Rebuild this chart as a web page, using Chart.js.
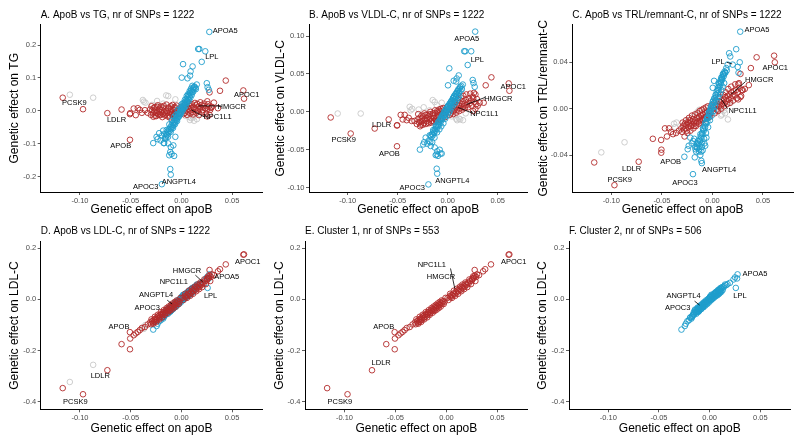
<!DOCTYPE html>
<html><head><meta charset="utf-8">
<script src="https://cdn.jsdelivr.net/npm/chart.js@4.4.1/dist/chart.umd.min.js"></script>
<style>
html,body{margin:0;padding:0;background:#fff;}
#wrap{position:relative;width:800px;height:443px;overflow:hidden;background:#fff}
canvas{position:absolute}
</style></head><body><div id="wrap"></div>
<script>
// ---------- tick values ----------
const xTickVals    = [-0.10, -0.05, 0.00, 0.05];
const tgTickVals   = [-0.2, -0.1, 0.0, 0.1, 0.2];
const vldlTickVals = [-0.10, -0.05, 0.00, 0.05, 0.10];
const trlTickVals  = [-0.04, 0.00, 0.04];
const ldlTickVals  = [-0.4, -0.2, 0.0, 0.2];

// ---------- cluster 1 (red) SNPs: effect on apoB, TG, VLDL-C, TRL-C, LDL-C ----------
const redApoB = [-0.0332,-0.0309,-0.0301,-0.0287,-0.0281,-0.0273,-0.0268,-0.0259,-0.0252,-0.0243,-0.0238,-0.0229,-0.0222,-0.0214,-0.0207,-0.0199,-0.0191,-0.0183,-0.0178,-0.0169,-0.0158,-0.0151,-0.0139,-0.0132,-0.0121,-0.0112,-0.0101,-0.0093,-0.0082,-0.0071,-0.0063,-0.0052,-0.0041,-0.0033,-0.0018,0.0012,0.0031,0.0042,0.0049,0.0061,0.0068,0.0079,0.0091,0.0098,0.0111,0.0119,0.0128,0.0142,0.0149,0.0161,0.0168,0.0181,0.0188,0.0199,0.0212,0.0219,0.0233,0.0251,0.0268,0.0291,
  -0.117,-0.097,-0.073,-0.059,-0.0507,-0.0505,-0.0508,-0.047,-0.045,-0.043,-0.041,-0.039,-0.036,0.061,0.0617,0.0437,0.038,0.036,0.0277,0.0277,0.0255,0.0255,0.032,0.030,
  -0.0295,-0.0276,-0.0262,-0.0248,-0.0233,-0.0218,-0.0203,-0.0188,-0.0174,-0.0163,-0.0147,-0.0135,-0.0126,-0.0115,-0.0105,-0.0096,-0.0087,-0.0076,-0.0066,-0.0056,-0.0046,-0.0027,-0.0009,0.0021,0.0036,0.0055,0.0073,0.0086,0.0104,0.0115,0.0133,0.0146,0.0157,0.0173,0.0186,0.0204,0.0225,0.0241,0.0262,0.0284];
const redTG = [-0.006,0.004,-0.012,0.002,-0.008,0.009,-0.003,-0.015,0.001,-0.007,0.012,-0.010,-0.002,0.006,-0.013,-0.005,0.003,-0.009,0.010,-0.004,-0.011,0.000,-0.006,0.007,-0.014,-0.003,0.005,-0.008,0.002,-0.010,0.008,-0.005,-0.001,0.004,-0.007,0.003,-0.006,0.008,0.012,-0.002,0.006,0.015,0.001,0.009,-0.004,0.011,0.004,0.017,0.007,-0.001,0.013,0.005,0.010,0.018,0.002,0.014,0.008,0.004,0.012,0.009,
  0.040,0.005,-0.007,0.004,-0.088,-0.007,-0.010,0.007,-0.013,0.008,0.003,-0.006,0.002,0.062,0.037,0.092,0.061,0.008,0.056,-0.012,-0.017,0.029,0.025,0.012,
  0.014,-0.018,0.011,-0.016,0.017,-0.012,0.013,-0.019,0.015,-0.014,0.019,-0.017,0.010,-0.020,0.014,-0.011,0.018,-0.015,0.012,-0.013,0.016,-0.009,0.011,-0.010,0.019,-0.012,0.022,-0.008,0.020,-0.011,0.024,-0.006,0.021,-0.013,0.026,-0.004,0.022,-0.009,0.020,0.003];
const redVLDL = [-0.012,-0.016,-0.010,-0.014,-0.008,-0.013,-0.017,-0.009,-0.012,-0.006,-0.015,-0.010,-0.004,-0.012,-0.008,-0.014,-0.006,-0.010,-0.003,-0.009,-0.012,-0.005,-0.008,-0.002,-0.010,-0.006,-0.001,-0.007,-0.004,0.001,-0.006,-0.002,0.002,-0.004,0.000,0.003,-0.002,0.005,0.001,0.007,0.002,0.006,0.009,0.003,0.008,0.012,0.005,0.010,0.014,0.007,0.011,0.016,0.009,0.013,0.018,0.011,0.015,0.020,0.013,0.017,
  -0.0074,-0.0286,-0.022,-0.010,-0.0454,-0.0176,-0.018,-0.004,-0.010,-0.004,-0.011,-0.008,-0.012,0.0375,0.0278,0.0455,0.035,0.012,0.023,0.004,0.001,0.018,0.012,0.008,
  -0.003,-0.019,-0.005,-0.017,-0.002,-0.016,-0.004,-0.015,0.000,-0.014,-0.002,-0.013,0.002,-0.012,0.001,-0.011,0.003,-0.010,0.004,-0.009,0.005,-0.007,0.006,-0.004,0.011,-0.003,0.013,-0.001,0.016,0.001,0.019,0.003,0.021,0.005,0.023,0.006,0.024,0.008,0.025,0.010];
const redTRL = [-0.019,-0.017,-0.020,-0.015,-0.018,-0.013,-0.017,-0.014,-0.019,-0.012,-0.016,-0.013,-0.010,-0.015,-0.011,-0.014,-0.009,-0.012,-0.015,-0.010,-0.012,-0.008,-0.011,-0.007,-0.010,-0.006,-0.009,-0.005,-0.008,-0.004,-0.007,-0.003,-0.006,-0.002,-0.004,0.001,0.003,-0.001,0.004,0.002,0.006,0.003,0.007,0.004,0.008,0.005,0.010,0.007,0.011,0.008,0.012,0.009,0.014,0.011,0.015,0.012,0.016,0.014,0.018,0.016,
  -0.0464,-0.066,-0.0458,-0.026,-0.038,-0.0354,-0.027,-0.017,-0.024,-0.017,-0.020,-0.022,-0.021,0.0457,0.040,0.0443,0.035,0.0203,0.030,0.010,0.008,0.021,0.017,0.016,
  -0.012,-0.024,-0.010,-0.021,-0.008,-0.019,-0.006,-0.017,-0.005,-0.015,-0.004,-0.013,-0.002,-0.012,-0.001,-0.010,0.000,-0.009,0.001,-0.008,0.002,-0.007,0.003,-0.004,0.007,-0.002,0.010,0.000,0.012,0.002,0.014,0.004,0.017,0.005,0.019,0.007,0.021,0.009,0.022,0.011];
const redLDL = [-0.098,-0.090,-0.097,-0.085,-0.091,-0.080,-0.088,-0.076,-0.082,-0.072,-0.079,-0.066,-0.072,-0.061,-0.068,-0.057,-0.062,-0.052,-0.058,-0.048,-0.053,-0.043,-0.046,-0.037,-0.041,-0.031,-0.034,-0.025,-0.028,-0.019,-0.022,-0.013,-0.016,-0.007,-0.009,0.006,0.012,0.009,0.017,0.015,0.023,0.020,0.030,0.026,0.036,0.032,0.042,0.038,0.048,0.045,0.054,0.050,0.060,0.057,0.066,0.062,0.072,0.074,0.084,0.088,
  -0.347,-0.371,-0.277,-0.175,-0.195,-0.153,-0.128,-0.140,-0.133,-0.127,-0.120,-0.112,-0.108,0.175,0.176,0.137,0.118,0.110,0.115,0.092,0.082,0.080,0.095,0.098,
  -0.078,-0.095,-0.068,-0.088,-0.060,-0.078,-0.050,-0.070,-0.042,-0.060,-0.034,-0.052,-0.028,-0.045,-0.022,-0.040,-0.016,-0.034,-0.010,-0.028,-0.004,-0.018,0.006,-0.002,0.022,0.006,0.034,0.014,0.042,0.022,0.050,0.032,0.058,0.040,0.066,0.048,0.078,0.060,0.090,0.072];

// ---------- cluster 2 (blue) SNPs ----------
const blueApoB = [-0.0162,-0.0155,-0.0149,-0.0141,-0.0136,-0.0128,-0.0122,-0.0117,-0.0109,-0.0103,-0.0098,-0.0091,-0.0086,-0.0079,-0.0073,-0.0068,-0.0061,-0.0057,-0.0051,-0.0046,-0.0039,-0.0034,-0.0028,-0.0023,-0.0017,-0.0012,-0.0006,-0.0001,0.0005,0.0009,0.0016,0.0021,0.0027,0.0032,0.0038,0.0043,0.0049,0.0054,0.0061,0.0066,0.0072,0.0078,0.0083,0.0091,0.0097,0.0104,0.0112,0.0119,0.0128,0.0137,
  0.0275,0.0165,0.0176,0.0235,0.020,0.0016,0.011,0.009,0.0085,0.006,0.0003,0.025,0.0258,0.027,-0.0193,-0.011,-0.0105,-0.0278,-0.0245,-0.0235,-0.0205,-0.019,-0.017,-0.0155,-0.013,-0.0105,-0.008,-0.006,-0.011,-0.0097,-0.012,-0.0072,-0.018,-0.022,
  -0.0145,-0.0132,-0.0119,-0.0106,-0.0094,-0.0083,-0.0071,-0.0064,-0.0053,-0.0043,-0.0036,-0.0025,-0.0015,-0.0008,0.0003,0.0012,0.0019,0.0025,0.0035,0.0041,0.0052,0.0058,0.0064,0.0075,0.0081,0.0088,0.0095,0.0101,0.0108,0.0116,0.0124,-0.0175,-0.0168,0.0142,0.0151];
const blueTG = [-0.085,-0.078,-0.070,-0.074,-0.062,-0.066,-0.055,-0.061,-0.050,-0.056,-0.044,-0.049,-0.038,-0.043,-0.032,-0.037,-0.027,-0.033,-0.021,-0.026,-0.015,-0.020,-0.009,-0.014,-0.004,-0.008,0.003,-0.002,0.010,0.005,0.016,0.011,0.022,0.017,0.028,0.023,0.035,0.030,0.041,0.036,0.048,0.043,0.055,0.050,0.062,0.057,0.068,0.064,0.074,0.070,
  0.240,0.188,0.188,0.181,0.149,0.142,0.135,0.120,0.107,0.099,0.101,0.084,0.072,0.064,-0.223,-0.177,-0.194,-0.098,-0.079,-0.086,-0.090,-0.075,-0.098,-0.081,-0.099,-0.110,-0.105,-0.079,-0.125,-0.131,-0.135,-0.137,-0.060,-0.068,
  -0.058,-0.079,-0.041,-0.064,-0.030,-0.052,-0.018,-0.041,-0.012,-0.031,0.002,-0.018,0.008,-0.010,0.020,0.000,0.024,0.008,0.034,0.014,0.045,0.025,0.050,0.032,0.060,0.040,0.068,0.048,0.076,0.058,0.072,-0.098,-0.070,0.066,0.080];
const blueVLDL = [-0.033,-0.029,-0.031,-0.026,-0.028,-0.023,-0.025,-0.020,-0.022,-0.017,-0.019,-0.014,-0.017,-0.011,-0.014,-0.009,-0.011,-0.006,-0.009,-0.004,-0.006,-0.001,-0.004,0.002,-0.001,0.004,0.001,0.006,0.003,0.008,0.005,0.010,0.008,0.013,0.010,0.015,0.012,0.018,0.015,0.020,0.017,0.023,0.020,0.025,0.022,0.028,0.025,0.031,0.028,0.034,
  0.1058,0.0799,0.0799,0.0799,0.0618,0.0574,0.048,0.044,0.040,0.041,0.035,0.042,0.038,0.033,-0.0957,-0.075,-0.0815,-0.0498,-0.043,-0.040,-0.042,-0.038,-0.045,-0.040,-0.047,-0.052,-0.050,-0.055,-0.056,-0.058,-0.057,-0.055,-0.031,-0.034,
  -0.024,-0.034,-0.018,-0.027,-0.013,-0.023,-0.008,-0.019,-0.004,-0.015,0.000,-0.009,0.004,-0.005,0.008,-0.001,0.011,0.002,0.014,0.006,0.018,0.009,0.021,0.012,0.024,0.015,0.027,0.018,0.030,0.021,0.033,-0.040,-0.031,0.030,0.036];
const blueTRL = [-0.037,-0.033,-0.034,-0.030,-0.031,-0.027,-0.028,-0.024,-0.025,-0.021,-0.022,-0.018,-0.019,-0.015,-0.016,-0.012,-0.013,-0.009,-0.011,-0.007,-0.008,-0.004,-0.005,-0.001,-0.003,0.002,0.000,0.004,0.002,0.007,0.005,0.009,0.007,0.012,0.010,0.015,0.013,0.018,0.016,0.021,0.019,0.024,0.022,0.027,0.025,0.030,0.028,0.032,0.031,0.035,
  0.0664,0.0478,0.045,0.0513,0.038,0.024,0.030,0.027,0.025,0.022,0.018,0.036,0.031,0.040,-0.0565,-0.045,-0.047,-0.0415,-0.035,-0.032,-0.030,-0.028,-0.033,-0.030,-0.035,-0.033,-0.030,-0.025,-0.037,-0.036,-0.040,-0.032,-0.026,-0.025,
  -0.028,-0.037,-0.022,-0.030,-0.017,-0.026,-0.012,-0.021,-0.008,-0.016,-0.003,-0.010,0.001,-0.006,0.006,-0.002,0.009,0.002,0.012,0.006,0.016,0.010,0.019,0.013,0.023,0.016,0.026,0.019,0.029,0.022,0.031,-0.042,-0.035,0.033,0.038];
const blueLDL = [-0.058,-0.049,-0.052,-0.043,-0.048,-0.039,-0.044,-0.035,-0.039,-0.030,-0.036,-0.026,-0.031,-0.022,-0.028,-0.019,-0.024,-0.015,-0.021,-0.012,-0.017,-0.008,-0.013,-0.004,-0.009,0.000,-0.005,0.004,-0.002,0.008,0.002,0.011,0.006,0.015,0.009,0.019,0.013,0.022,0.016,0.026,0.020,0.030,0.024,0.034,0.028,0.038,0.033,0.043,0.037,0.047,
  0.098,0.056,0.060,0.078,0.065,0.018,0.042,0.036,0.030,0.025,0.010,0.086,0.045,0.082,-0.072,-0.040,-0.036,-0.118,-0.104,-0.095,-0.082,-0.070,-0.065,-0.060,-0.050,-0.045,-0.035,-0.030,-0.048,-0.040,-0.050,-0.028,-0.075,-0.085,
  -0.040,-0.056,-0.032,-0.045,-0.024,-0.038,-0.016,-0.030,-0.010,-0.024,-0.004,-0.018,0.002,-0.012,0.010,-0.004,0.015,0.001,0.020,0.006,0.026,0.012,0.030,0.016,0.036,0.020,0.040,0.025,0.045,0.030,0.048,-0.070,-0.062,0.052,0.058];

// ---------- unassigned (grey) SNPs ----------
const greyApoB = [-0.110,-0.087,-0.038,-0.0355,-0.015,-0.013,0.0153,0.0094,0.0084,0.0125,-0.029,-0.024,-0.018,-0.011,-0.006,0.004,0.007,0.0115,0.018,-0.037];
const greyTG   = [0.049,0.040,0.033,0.025,0.047,0.045,-0.025,-0.022,-0.028,-0.030,0.018,0.030,0.022,0.010,0.035,-0.015,-0.018,-0.020,-0.010,0.028];
const greyVLDL = [-0.0022,-0.0022,0.0066,0.004,0.0155,0.013,-0.011,-0.011,-0.009,-0.010,0.003,0.006,0.002,0.009,0.012,-0.006,-0.004,-0.009,-0.002,0.002];
const greyTRL  = [-0.0377,-0.029,-0.013,-0.012,-0.003,-0.001,-0.0093,-0.005,-0.006,-0.004,-0.0145,-0.010,-0.007,-0.0043,-0.0015,-0.003,-0.001,-0.0015,0.005,-0.016];
const greyLDL  = [-0.323,-0.256,-0.110,-0.100,-0.040,-0.035,0.045,0.030,0.025,0.040,-0.085,-0.070,-0.055,-0.030,-0.015,0.015,0.020,0.035,0.055,-0.115];

// ---------- styling / layout ----------
const FONT = "'Liberation Sans', Arial, Helvetica, sans-serif";
const RED = '#B22A2A', BLUE = '#1E9DCC', GREY = '#C8C8C8';
const X_MIN = -0.1387, X_MAX = 0.0797;

function pts(xs, ys){ return xs.map((x, i) => ({x: x, y: ys[i]})); }
function ds(xs, ys, col){
  return {data: pts(xs, ys), showLine:false, pointStyle:'circle', pointRadius:2.8, pointBorderWidth:0.9,
          pointBackgroundColor:'rgba(0,0,0,0)', pointBorderColor: col, pointHoverRadius:2.8};
}

const decoPlugin = {
  id: 'deco',
  afterDraw(chart, args, o){
    const ctx = chart.ctx, ca = chart.chartArea, xs = chart.scales.x, ys = chart.scales.y;
    ctx.save();
    ctx.fillStyle = '#000';
    ctx.font = '10px ' + FONT; ctx.textAlign = 'left'; ctx.textBaseline = 'middle';
    ctx.fillText(o.title, ca.left, o.titleY);
    ctx.font = '7.5px ' + FONT; ctx.textAlign = 'center';
    ctx.strokeStyle = '#000'; ctx.lineWidth = 0.8;
    for (const l of o.labels){
      if (l.line){
        ctx.beginPath();
        ctx.moveTo(xs.getPixelForValue(l.line[0]), ys.getPixelForValue(l.line[1]));
        ctx.lineTo(xs.getPixelForValue(l.line[2]), ys.getPixelForValue(l.line[3]));
        ctx.stroke();
      }
      ctx.fillText(l.t, xs.getPixelForValue(l.x), ys.getPixelForValue(l.y));
    }
    ctx.restore();
  }
};

function scale(isX, min, max, ticks, dec, title, fixed, tpad){
  return {
    type:'linear', min:min, max:max, position: isX ? 'bottom' : 'left',
    afterBuildTicks: s => { s.ticks = ticks.map(v => ({value: v})); },
    afterFit: s => { if (isX) s.height = fixed; else s.width = fixed; },
    grid:{display:true, drawOnChartArea:false, drawTicks:true, tickLength:3, tickWidth:0.8, tickColor:'#333'},
    border:{display:true, color:'#000', width:1},
    ticks:{color:'#4D4D4D', font:{family:FONT, size:7.5}, padding:1.5, maxRotation:0, autoSkip:false,
           callback: v => Number(v).toFixed(dec)},
    title:{display:true, text:title, color:'#000', font:{family:FONT, size:12}, padding: tpad}
  };
}

function panel(p){
  const c = document.createElement('canvas');
  c.width = p.w; c.height = p.h;
  c.style.left = p.left + 'px'; c.style.top = p.top + 'px';
  c.style.width = p.w + 'px'; c.style.height = p.h + 'px';
  document.getElementById('wrap').appendChild(c);
  new Chart(c.getContext('2d'), {
    type:'scatter',
    data:{datasets: p.datasets},
    options:{
      responsive:false, animation:false, devicePixelRatio:1,
      events:[],
      layout:{padding:{left:0, top:p.plotT - p.top, right:(p.left + p.w) - p.plotR, bottom:0}},
      plugins:{legend:{display:false}, tooltip:{enabled:false}, title:{display:false},
               deco:{title:p.title, titleY:p.titleY, labels:p.labels}},
      scales:{
        x: scale(true, X_MIN, X_MAX, xTickVals, 2, 'Genetic effect on apoB', (p.top + p.h) - p.plotB, {top:0, bottom:p.xtb}),
        y: scale(false, p.ymin, p.ymax, p.yticks, p.ydec, p.ytitle, p.plotL - p.left, {top:p.ytl, bottom:0})
      }
    },
    plugins:[decoPlugin]
  });
}

const L = (t, x, y, line) => ({t:t, x:x, y:y, line:line});

// Panel A
panel({left:0, top:0, w:266, h:220, plotL:40.7, plotR:263, plotT:24.5, plotB:192, xtb:2.8, ytl:7.8,
  ymin:-0.2467, ymax:0.2625, yticks:tgTickVals, ydec:1, ytitle:'Genetic effect on TG',
  title:'A. ApoB vs TG, nr of SNPs = 1222', titleY:15,
  datasets:[ds(blueApoB, blueTG, BLUE), ds(redApoB, redTG, RED), ds(greyApoB, greyTG, GREY)],
  labels:[L('APOA5',0.0431,0.244), L('LPL',0.030,0.163), L('APOC1',0.0643,0.0486),
    L('HMGCR',0.0496,0.013,[0.017,0.015,0.039,0.015]), L('NPC1L1',0.0356,-0.019,[0.0098,0.003,0.0228,-0.019]),
    L('PCSK9',-0.1056,0.025), L('LDLR',-0.064,-0.027), L('APOB',-0.0598,-0.106),
    L('ANGPTL4',-0.0026,-0.215), L('APOC3',-0.0353,-0.232)]
});
// Panel B
panel({left:266, top:0, w:266, h:220, plotL:309, plotR:527.4, plotT:24.5, plotB:192, xtb:2.8, ytl:7.8,
  ymin:-0.1057, ymax:0.1152, yticks:vldlTickVals, ydec:2, ytitle:'Genetic effect on VLDL-C',
  title:'B. ApoB vs VLDL-C, nr of SNPs = 1222', titleY:15,
  datasets:[ds(blueApoB, blueVLDL, BLUE), ds(redApoB, redVLDL, RED), ds(greyApoB, greyVLDL, GREY)],
  labels:[L('APOA5',0.019,0.0958), L('LPL',0.0296,0.0684), L('APOC1',0.0656,0.0323),
    L('HMGCR',0.0506,0.0168,[0.019,0.0098,0.0373,0.019]), L('NPC1L1',0.0366,-0.0021,[0.0106,0.0058,0.024,-0.0013]),
    L('LDLR',-0.066,-0.0176), L('PCSK9',-0.104,-0.0374), L('APOB',-0.0584,-0.056),
    L('ANGPTL4',0.0046,-0.0917), L('APOC3',-0.0354,-0.100)]
});
// Panel C
panel({left:532, top:0, w:268, h:220, plotL:572.3, plotR:793, plotT:24.5, plotB:192, xtb:2.8, ytl:4.8,
  ymin:-0.0719, ymax:0.0726, yticks:trlTickVals, ydec:2, ytitle:'Genetic effect on TRL/remnant-C',
  title:'C. ApoB vs TRL/remnant-C, nr of SNPs = 1222', titleY:15,
  datasets:[ds(blueApoB, blueTRL, BLUE), ds(redApoB, redTRL, RED), ds(greyApoB, greyTRL, GREY)],
  labels:[L('APOA5',0.044,0.0675), L('LPL',0.0056,0.040,[0.0142,0.040,0.0195,0.0386]), L('APOC1',0.0622,0.0348),
    L('HMGCR',0.0463,0.0246,[0.0182,0.0122,0.0324,0.0231]), L('NPC1L1',0.0298,-0.0023,[0.0089,0.0081,0.0149,0.0]),
    L('ANGPTL4',0.0066,-0.0528), L('APOB',-0.0414,-0.0456), L('LDLR',-0.080,-0.0516),
    L('PCSK9',-0.0918,-0.0615), L('APOC3',-0.0272,-0.0638)]
});
// Panel D
panel({left:0, top:220, w:266, h:223, plotL:40.7, plotR:263, plotT:241.7, plotB:409.3, xtb:6.8, ytl:7.8,
  ymin:-0.4298, ymax:0.2257, yticks:ldlTickVals, ydec:1, ytitle:'Genetic effect on LDL-C',
  title:'D. ApoB vs LDL-C, nr of SNPs = 1222', titleY:11,
  datasets:[ds(redApoB, redLDL, RED), ds(blueApoB, blueLDL, BLUE), ds(greyApoB, greyLDL, GREY)],
  labels:[L('APOC1',0.0653,0.147), L('HMGCR',0.0055,0.112,[0.0137,0.095,0.0209,0.069]), L('APOA5',0.0447,0.086),
    L('NPC1L1',-0.0075,0.069), L('LPL',0.0287,0.013), L('ANGPTL4',-0.0249,0.017,[-0.014,-0.003,-0.0092,-0.018]),
    L('APOC3',-0.0337,-0.035), L('APOB',-0.0615,-0.107), L('LDLR',-0.080,-0.301), L('PCSK9',-0.1046,-0.401)]
});
// Panel E
panel({left:266, top:220, w:266, h:223, plotL:305, plotR:527.7, plotT:241.7, plotB:409.3, xtb:6.8, ytl:6.3,
  ymin:-0.4298, ymax:0.2257, yticks:ldlTickVals, ydec:1, ytitle:'Genetic effect on LDL-C',
  title:'E. Cluster 1, nr of SNPs = 553', titleY:11,
  datasets:[ds(redApoB, redLDL, RED)],
  labels:[L('APOC1',0.066,0.147), L('NPC1L1',-0.0143,0.134,[0.004,0.121,0.0082,0.043]), L('HMGCR',-0.0054,0.089),
    L('APOB',-0.0615,-0.107), L('LDLR',-0.064,-0.249), L('PCSK9',-0.1046,-0.401)]
});
// Panel F
panel({left:532, top:220, w:268, h:223, plotL:569, plotR:790.5, plotT:241.7, plotB:409.3, xtb:6.8, ytl:3.8,
  ymin:-0.4298, ymax:0.2257, yticks:ldlTickVals, ydec:1, ytitle:'Genetic effect on LDL-C',
  title:'F. Cluster 2, nr of SNPs = 506', titleY:11,
  datasets:[ds(blueApoB, blueLDL, BLUE)],
  labels:[L('APOA5',0.0447,0.100), L('LPL',0.0298,0.013), L('ANGPTL4',-0.0258,0.013,[-0.0149,-0.0067,-0.01,-0.022]),
    L('APOC3',-0.0315,-0.035)]
});
</script></body></html>
